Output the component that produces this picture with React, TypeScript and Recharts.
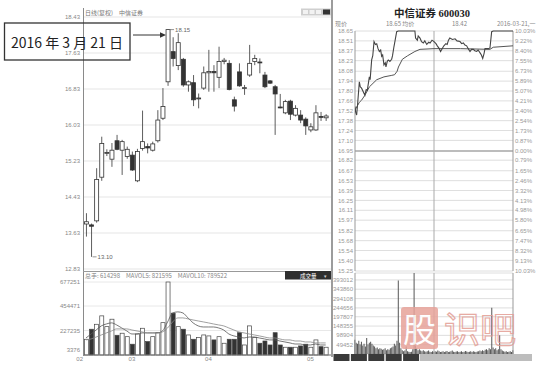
import React from 'react';
import {
  ComposedChart,
  LineChart,
  BarChart,
  Bar,
  Line,
  XAxis,
  YAxis,
  CartesianGrid,
  ReferenceLine,
} from 'recharts';

const FONT = "Arial, 'Liberation Sans', 'Noto Sans CJK SC', sans-serif";
const CJK = "'Noto Sans CJK SC', 'Noto Sans CJK TC', sans-serif";

// ---- Daily K-line (forward adjusted), one entry per trading day ----
const opens = [
  13.83, 13.81, 13.9, 14.87, 15.4, 15.27, 15.68, 15.47, 15.33, 15.36,
  14.79, 15.51, 15.55, 15.47, 15.68, 16.18, 16.99, 17.66, 17.35, 17.49,
  16.92, 16.97, 16.61, 16.85, 17.19, 17.22, 17.09, 17.44, 17.4, 16.59,
  17.21, 16.84, 17.14, 17.44, 17.43, 17.14, 17.01, 16.88, 16.43, 16.3,
  16.56, 16.25, 16.25, 16.16, 15.92, 15.92, 16.22, 16.19,
];
const highs = [
  14.07, 13.84, 15.07, 15.77, 15.49, 15.63, 15.81, 15.7, 15.55, 15.44,
  15.5, 16.35, 15.62, 15.66, 16.36, 16.85, 18.15, 17.98, 18.07, 17.52,
  17.02, 17.14, 16.73, 17.33, 17.7, 17.36, 17.77, 17.52, 17.47, 16.66,
  17.4, 16.92, 17.81, 17.59, 17.51, 17.21, 17.03, 16.92, 16.72, 16.59,
  16.59, 16.47, 16.36, 16.2, 16.07, 16.47, 16.32, 16.27,
];
const lows = [
  13.55, 13.1, 13.86, 14.79, 15.34, 15.1, 15.47, 14.92, 15.28, 15.01,
  14.76, 15.46, 15.4, 15.44, 15.64, 16.14, 16.9, 17.33, 17.25, 16.88,
  16.77, 16.45, 16.4, 16.81, 16.77, 16.77, 16.85, 17.38, 16.8, 16.33,
  16.88, 16.7, 17.1, 17.36, 17.18, 16.85, 16.94, 15.81, 16.4, 16.27,
  16.14, 16.22, 16.07, 15.81, 15.87, 15.9, 16.12, 16.12,
];
const closes = [
  13.88, 13.78, 14.82, 15.62, 15.42, 15.47, 15.49, 15.66, 15.49, 15.03,
  15.44, 15.66, 15.52, 15.61, 16.14, 16.44, 18.15, 17.51, 17.86, 16.92,
  16.99, 16.59, 16.63, 17.19, 17.22, 17.19, 17.44, 17.47, 16.82, 16.45,
  16.9, 16.86, 17.4, 17.51, 17.41, 16.88, 16.96, 16.72, 16.41, 16.55,
  16.27, 16.4, 16.14, 16.01, 15.99, 16.3, 16.2, 16.23,
];
const volumes = [
  146000, 239000, 285000, 363000, 263000, 332000, 183000, 202000, 170000, 100000,
  195000, 248000, 124000, 170000, 207000, 300000, 677251, 388000, 263000, 239000,
  186000, 146000, 161000, 186000, 177000, 140000, 170000, 109000, 146000, 146000,
  207000, 93000, 270000, 161000, 109000, 130000, 93000, 207000, 93000, 72000,
  72000, 72000, 84000, 100000, 72000, 140000, 77000, 72000,
];
const mavol5 = [
  158000, 195000, 232000, 270000, 288000, 298000, 279000, 251000, 223000, 195000,
  195000, 205000, 205000, 205000, 205000, 223000, 307000, 390000, 400000, 390000,
  344000, 298000, 270000, 260000, 260000, 260000, 251000, 232000, 195000, 177000,
  167000, 158000, 167000, 167000, 158000, 149000, 140000, 140000, 130000, 121000,
  112000, 102000, 102000, 93000, 93000, 102000, 93000, 93000,
];
const mavol10 = [
  140000, 149000, 167000, 186000, 205000, 223000, 242000, 242000, 242000, 232000,
  223000, 214000, 205000, 205000, 205000, 214000, 251000, 307000, 344000, 344000,
  335000, 325000, 316000, 307000, 298000, 288000, 279000, 270000, 251000, 232000,
  214000, 205000, 195000, 186000, 177000, 167000, 158000, 158000, 149000, 140000,
  140000, 130000, 130000, 121000, 121000, 112000, 112000, 112000,
];

const priceTicks = [12.83, 13.63, 14.43, 15.23, 16.03, 16.83, 17.63, 18.43];
const volTicks = [227235, 454471, 677251];
const X_MIN = -0.588;
const X_MAX = 48.04;
const monthTicks = [X_MIN, 9, 24, 44];
const monthLabels = ['02', '03', '04', '05'];

// ---- Intraday, 2016-03-21 ----
const rowPrices = [
  18.65, 18.51, 18.37, 18.23, 18.08, 17.94, 17.8, 17.66, 17.52, 17.38, 17.24, 17.1,
  16.95, 16.82, 16.67, 16.53, 16.39, 16.25, 16.11, 15.97, 15.82, 15.68, 15.54, 15.4, 15.25,
];
const rowPercents = [
  '10.03%', '9.22%', '8.40%', '7.55%', '6.73%', '5.89%', '5.07%', '4.21%', '3.40%', '2.54%',
  '1.73%', '0.87%', '0.00%', '0.79%', '1.65%', '2.46%', '3.32%', '4.13%', '4.98%', '5.80%',
  '6.65%', '7.47%', '8.32%', '9.13%', '10.03%',
];
const prevClose = 16.95;

const priceMinutes = [
  0, 1, 2.5, 4, 6.6, 8, 10, 12, 15, 17, 18.7, 21.8, 23, 25.3, 27, 28.9, 31, 33, 35, 37,
  39, 40.5, 42, 44, 46, 47, 49, 50.6, 53, 55.7, 57, 59.2, 61, 63.3, 65.8, 91, 92, 94.7,
  96, 98.7, 101, 103.8, 106, 109, 112, 114, 117, 120, 123, 125, 128, 130, 133, 135, 138,
  140, 142, 144, 148, 152, 155, 159.5, 162, 164.6, 167, 169.6, 172, 174.7, 177, 179.8,
  182, 184.8, 187, 190, 192, 194, 196, 197.5, 202.6, 205, 207.6, 210, 240,
];
const priceValues = [
  17.58, 17.5, 17.46, 17.62, 17.93, 17.86, 17.84, 17.8, 17.74, 17.82, 17.81, 18.0, 17.96,
  18.24, 18.3, 18.5, 18.46, 18.47, 18.4, 18.36, 18.38, 18.29, 18.31, 18.17, 18.2, 18.14,
  18.22, 18.24, 18.22, 18.25, 18.3, 18.43, 18.52, 18.64, 18.65, 18.65, 18.55, 18.52, 18.58,
  18.55, 18.5, 18.48, 18.51, 18.46, 18.49, 18.48, 18.52, 18.5, 18.47, 18.44, 18.4, 18.36,
  18.41, 18.44, 18.47, 18.46, 18.52, 18.55, 18.53, 18.54, 18.51, 18.5, 18.47, 18.48,
  18.45, 18.44, 18.4, 18.36, 18.39, 18.39, 18.37, 18.36, 18.38, 18.34, 18.31, 18.26,
  18.33, 18.4, 18.4, 18.41, 18.64, 18.65, 18.65,
];
const avgMinutes = [0, 6.6, 10, 15, 22, 33, 44, 55, 60, 64, 66, 72, 80, 91, 98.7, 120, 160, 205, 210, 240];
const avgValues = [
  17.53, 17.64, 17.67, 17.74, 17.86, 17.96, 18.0, 18.02, 18.03, 18.08, 18.14, 18.25,
  18.3, 18.36, 18.39, 18.4, 18.4, 18.39, 18.42, 18.44,
];
// volume per two-minute slot, 9:30 .. 15:00
const slotVolumes = [
  75000, 60000, 55000, 70000, 50000, 65000, 45000, 55000, 40000, 85000,
  50000, 60000, 65000, 55000, 45000, 40000, 30000, 35000, 25000, 30000,
  28000, 22000, 25000, 30000, 20000, 25000, 22000, 30000, 35000, 40000,
  55000, 45000, 70000, 390000, 60000, 30000, 20000, 15000, 18000, 40000,
  15000, 12000, 10000, 12000, 25000, 430000, 45000, 30000, 20000, 25000,
  18000, 15000, 20000, 15000, 12000, 14000, 18000, 12000, 10000, 14000,
  12000, 15000, 12000, 18000, 14000, 10000, 12000, 15000, 11000, 13000,
  16000, 10000, 12000, 14000, 18000, 12000, 10000, 13000, 15000, 11000,
  12000, 14000, 10000, 12000, 16000, 13000, 10000, 12000, 15000, 11000,
  14000, 12000, 10000, 13000, 15000, 18000, 14000, 20000, 16000, 22000,
  25000, 20000, 30000, 25000, 245000, 35000, 25000, 30000, 20000, 25000,
  100000, 25000, 18000, 15000, 12000, 14000, 10000, 12000, 15000, 10000,
  20000,
];
const slotVolTicks = [49452, 98904, 148355, 197807, 244656, 294108, 343860, 393012];

const days = opens.map((o, i) => ({
  i,
  o,
  h: highs[i],
  l: lows[i],
  c: closes[i],
  range: [lows[i], highs[i]],
  v: volumes[i],
  ma5: mavol5[i],
  ma10: mavol10[i],
}));
const hiIdx = highs.indexOf(Math.max(...highs));
const loIdx = lows.indexOf(Math.min(...lows));

const pricePts = priceMinutes.map((m, k) => ({ m, p: priceValues[k] }));
const avgPts = avgMinutes.map((m, k) => ({ m, p: avgValues[k] }));
const slotPts = slotVolumes.map((v, k) => ({ m: k * 2, v }));

const INK = '#333';

const Candle = (props: any) => {
  const { x, y, width, height, payload } = props;
  const { o, h, l, c, i } = payload;
  const top = Math.min(y, y + height);
  const span = Math.abs(height);
  const k = h > l ? span / (h - l) : 0;
  const py = (p: number) => top + (h - p) * k;
  const cx = x + width / 2;
  const up = c >= o;
  const bt = py(Math.max(o, c));
  const bb = py(Math.min(o, c));
  const bh = Math.max(bb - bt, 0.9);
  return (
    <g>
      <line x1={cx} x2={cx} y1={top} y2={top + span} stroke={INK} strokeWidth={0.8} />
      <rect x={x} y={bt} width={width} height={bh} fill={up ? '#fff' : INK} stroke={INK} strokeWidth={0.8} />
      {i === hiIdx && (
        <g>
          <line x1={cx + 1} x2={cx + 6} y1={top} y2={top} stroke="#666" strokeWidth={0.7} />
          <text x={cx + 7} y={top + 2} fontSize={6} fill="#666" fontFamily={FONT}>
            {h.toFixed(2)}
          </text>
        </g>
      )}
      {i === loIdx && (
        <g>
          <line x1={cx + 1} x2={cx + 5} y1={top + span} y2={top + span} stroke="#666" strokeWidth={0.7} />
          <text x={cx + 6} y={top + span + 2} fontSize={6} fill="#666" fontFamily={FONT}>
            {l.toFixed(2)}
          </text>
        </g>
      )}
    </g>
  );
};

const VolBar = (props: any) => {
  const { x, y, width, height, payload } = props;
  const up = payload.c >= payload.o;
  const top = Math.min(y, y + height);
  return (
    <rect x={x} y={top} width={width} height={Math.abs(height)} fill={up ? '#fff' : INK} stroke="#444" strokeWidth={0.7} />
  );
};

const MonthTick = (props: any) => {
  const { x, payload } = props;
  const idx = monthTicks.indexOf(payload.value);
  return (
    <text x={x} y={361} textAnchor={idx === 0 ? 'end' : 'middle'} fontSize={6} fill="#888" fontFamily={FONT}>
      {monthLabels[idx]}
    </text>
  );
};

const tickStyle = { fontSize: 6, fill: '#888', fontFamily: FONT };
const tickStyleR = { fontSize: 6, fill: '#999', fontFamily: FONT };

export default function App() {
  return (
    <div
      style={{
        position: 'absolute',
        left: 0,
        top: 0,
        width: 549,
        height: 366,
        background: '#fff',
        overflow: 'hidden',
        fontFamily: FONT,
      }}
    >
      {/* daily candles */}
      <div style={{ position: 'absolute', left: 0, top: 0 }}>
        <ComposedChart width={340} height={366} data={days} margin={{ top: 17, right: 9, bottom: 97, left: 0 }}>
          <CartesianGrid vertical={false} stroke="#dedede" strokeWidth={0.8} />
          <XAxis type="number" dataKey="i" domain={[X_MIN, X_MAX]} hide />
          <YAxis
            domain={[12.83, 18.43]}
            ticks={priceTicks}
            interval={0}
            width={83}
            tickSize={0}
            tickMargin={3}
            axisLine={false}
            tick={tickStyle}
            tickFormatter={(v: number) => v.toFixed(2)}
          />
          <Bar dataKey="range" barSize={4} shape={<Candle />} isAnimationActive={false} />
        </ComposedChart>
      </div>

      {/* daily volume */}
      <div style={{ position: 'absolute', left: 0, top: 0 }}>
        <ComposedChart width={340} height={366} data={days} margin={{ top: 282, right: 9, bottom: 0, left: 0 }}>
          <CartesianGrid vertical={false} stroke="#e2e2e2" strokeWidth={0.8} />
          <XAxis
            type="number"
            dataKey="i"
            domain={[X_MIN, X_MAX]}
            ticks={monthTicks}
            interval={0}
            height={11}
            tickSize={0}
            tickLine={false}
            axisLine={{ stroke: '#777' }}
            tick={(p: any) => <MonthTick {...p} />}
          />
          <YAxis
            domain={[0, 677251]}
            ticks={volTicks}
            interval={0}
            width={83}
            tickSize={0}
            tickMargin={3}
            axisLine={false}
            tick={tickStyle}
          />
          <Bar dataKey="v" barSize={4} shape={<VolBar />} isAnimationActive={false} />
          <Line dataKey="ma5" type="monotone" stroke="#555" strokeWidth={0.8} dot={false} isAnimationActive={false} />
          <Line dataKey="ma10" type="monotone" stroke="#888" strokeWidth={0.8} dot={false} isAnimationActive={false} />
        </ComposedChart>
      </div>

      {/* intraday price */}
      <div style={{ position: 'absolute', left: 333, top: 0 }}>
        <LineChart width={216} height={366} margin={{ top: 31, right: 0, bottom: 95, left: 0 }}>
          <CartesianGrid vertical={false} stroke="#d6d6d6" strokeWidth={0.8} />
          <XAxis type="number" dataKey="m" domain={[0, 240]} hide allowDataOverflow />
          <YAxis
            domain={[15.25, 18.65]}
            ticks={rowPrices}
            interval={0}
            width={22}
            tickSize={0}
            tickMargin={2}
            axisLine={false}
            tick={tickStyleR}
            tickFormatter={(v: number) => v.toFixed(2)}
          />
          <YAxis
            yAxisId="pct"
            orientation="right"
            domain={[15.25, 18.65]}
            ticks={rowPrices}
            interval={0}
            width={36}
            tickSize={0}
            tickMargin={2}
            axisLine={false}
            tick={tickStyleR}
            tickFormatter={(v: number) => rowPercents[rowPrices.indexOf(v)] ?? ''}
          />
          <ReferenceLine y={prevClose} stroke="#8a8a8a" strokeWidth={1.2} />
          <ReferenceLine x={0} stroke="#999" />
          <ReferenceLine x={120} stroke="#aaa" />
          <ReferenceLine x={240} stroke="#999" />
          <Line data={avgPts} dataKey="p" type="linear" stroke="#555" strokeWidth={1} dot={false} isAnimationActive={false} />
          <Line data={pricePts} dataKey="p" type="linear" stroke="#444" strokeWidth={1.1} dot={false} isAnimationActive={false} />
          <Line data={pricePts} dataKey="p" yAxisId="pct" stroke="none" dot={false} isAnimationActive={false} />
        </LineChart>
      </div>

      {/* intraday volume */}
      <div style={{ position: 'absolute', left: 333, top: 0 }}>
        <BarChart width={216} height={366} data={slotPts} margin={{ top: 273, right: 36, bottom: 12, left: 0 }}>
          <CartesianGrid vertical={false} stroke="#d6d6d6" strokeWidth={0.8} />
          <XAxis type="number" dataKey="m" domain={[0, 240]} hide />
          <YAxis
            domain={[0, 430000]}
            ticks={slotVolTicks}
            interval={0}
            width={22}
            tickSize={0}
            tickMargin={2}
            axisLine={false}
            tick={tickStyleR}
          />
          <ReferenceLine x={0} stroke="#999" />
          <ReferenceLine x={120} stroke="#aaa" />
          <ReferenceLine x={240} stroke="#999" />
          <Bar dataKey="v" barSize={1} fill="#555" isAnimationActive={false} />
        </BarChart>
      </div>

      {/* frames, headers and captions */}
      <svg width={549} height={366} style={{ position: 'absolute', left: 0, top: 0, pointerEvents: 'none' }}>
        <line x1={83.5} y1={8} x2={83.5} y2={356} stroke="#8a8a8a" strokeWidth={1} />
        <line x1={332} y1={0} x2={332} y2={357} stroke="#9c9c9c" strokeWidth={2} />
        <line x1={83} y1={271.5} x2={331} y2={271.5} stroke="#999" strokeWidth={1} />

        <text x={85} y={15} fontSize={6} fill="#777" fontFamily={CJK}>
          日线(复权)　中信证券
        </text>
        <rect x={301} y={8.5} width={30} height={7} fill="#cfcfcf" />
        <rect x={303} y={10} width={5} height={4} fill="#f2f2f2" />
        <rect x={309.5} y={10} width={5} height={4} fill="#f2f2f2" />
        <rect x={316} y={10} width={5} height={4} fill="#f2f2f2" />
        <rect x={323} y={9.5} width={7} height={5} fill="#333" />

        <text x={85} y={278} fontSize={6} fill="#888" fontFamily={CJK}>
          总手: 614298　MAVOL5: 821595　MAVOL10: 789522
        </text>
        <rect x={285} y={271} width={46} height={8.5} fill="#2f2f2f" />
        <text x={300} y={277.5} fontSize={5.5} fill="#fff" fontFamily={CJK}>
          成交量
        </text>
        <text x={323} y={277.5} fontSize={4.5} fill="#ccc" fontFamily={FONT}>
          ▼
        </text>
        <text x={80} y={352} textAnchor="end" fontSize={6} fill="#888" fontFamily={FONT}>
          3376
        </text>

        {/* date callout */}
        <rect x={4.5} y={23} width={125.5} height={37} fill="none" stroke="#333" strokeWidth={1.3} />
        <text x={67} y={47.5} textAnchor="middle" fontSize={14} fill="#222" fontFamily={CJK}>
          2016 年 3 月 21 日
        </text>
        <line x1={133} y1={35} x2={161} y2={35} stroke="#333" strokeWidth={1} />
        <polygon points="166,35 160,32.3 160,37.7" fill="#333" />

        {/* intraday header */}
        <text x={432} y={17} textAnchor="middle" fontSize={10.5} fontWeight="bold" fill="#222" fontFamily={"'Liberation Serif', 'Noto Sans CJK SC', serif"}>
          中信证券 600030
        </text>
        <text x={335} y={26} fontSize={6} fill="#888" fontFamily={CJK}>
          现价
        </text>
        <text x={386} y={26} fontSize={6} fill="#888" fontFamily={CJK}>
          18.65 均价
        </text>
        <text x={452} y={26} fontSize={6} fill="#888" fontFamily={CJK}>
          18.42
        </text>
        <text x={497} y={26} fontSize={6} fill="#888" fontFamily={CJK}>
          2016-03-21,一
        </text>

        {/* bottom tabs */}
        <rect x={420} y={354} width={112} height={7} fill="#bdbdbd" />
        {[0, 1, 2, 3, 4].map((t) => (
          <rect key={t} x={333.5 + t * 17.4} y={354} width={16} height={7} fill="#3a3a3a" />
        ))}

        {/* site watermark */}
        <g opacity={0.85}>
          <rect x={401} y={307} width={37} height={42} rx={3} fill="#e7a39a" />
          <text x={419.5} y={342} textAnchor="middle" fontSize={33} fill="#fff" fontFamily={CJK}>
            股
          </text>
          <text x={444} y={343} fontSize={36} fill="none" stroke="#e39d94" strokeWidth={1.2} fontFamily={CJK}>
            识吧
          </text>
        </g>
      </svg>
    </div>
  );
}
